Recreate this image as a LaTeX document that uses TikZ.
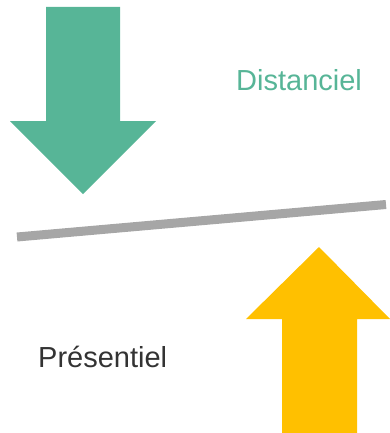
\documentclass[tikz,border=0pt]{standalone}
\usepackage{fontspec}
\setmainfont{Liberation Sans}
\usepackage{tikz}
\definecolor{distgreen}{RGB}{87,181,151}
\definecolor{presyellow}{RGB}{255,192,0}
\definecolor{beamgray}{RGB}{166,166,166}
\definecolor{textgray}{RGB}{51,51,51}

\begin{document}
\begin{tikzpicture}[x=1pt,y=-1pt,
    label/.style={inner sep=0pt,anchor=base west,font=\fontsize{29}{35}\selectfont}]
    \useasboundingbox (0,0) rectangle (390,433);
    % fleche distanciel
    \fill[distgreen] (46,7) -- (120,7) -- (120,121) -- (156,121)
        -- (83,194) -- (10,121) -- (46,121) -- cycle;
    % fleche presentiel
    \fill[presyellow] (282,433) -- (357,433) -- (357,319) -- (390,319)
        -- (319,247) -- (246,319) -- (282,319) -- cycle;
    % balance
    \coordinate (L) at (17,237);
    \coordinate (R) at (386,204.5);
    \draw[beamgray,line width=9] (L) -- (R);
    \node[label,text=distgreen] (dist) at (236,91) {Distanciel};
    \node[label,text=textgray] (pres) at (38,367) {Présentiel};
\end{tikzpicture}
\end{document}
